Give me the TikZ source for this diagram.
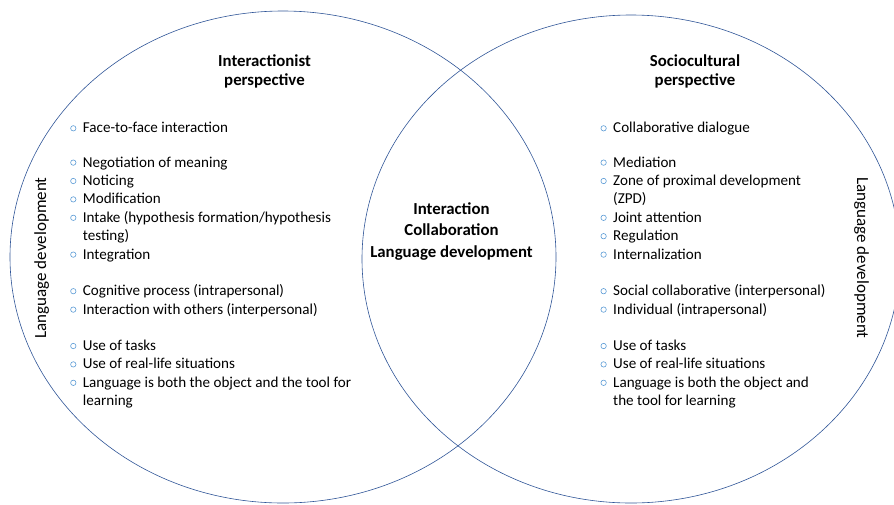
\documentclass[tikz,border=0pt]{standalone}
\usepackage{fontspec}
\setmainfont{Carlito}
\definecolor{ring}{HTML}{2F5597}
\definecolor{dot}{HTML}{5B9BD5}
\newcommand{\ltab}[1]{\begin{tabular}[t]{@{}l@{}}#1\end{tabular}}
\newcommand{\ctab}[1]{\begin{tabular}[t]{@{}c@{}}#1\end{tabular}}

\begin{document}
\begin{tikzpicture}[x=1pt,y=-1pt,
    txt/.style={font=\fontsize{15.1}{18.4}\selectfont, inner sep=0pt, anchor=base west},
    hd/.style={font=\fontsize{16.8}{19.2}\selectfont\bfseries, inner sep=0pt, anchor=base},
    mid/.style={font=\fontsize{16.8}{21.8}\selectfont\bfseries, inner sep=0pt, anchor=base},
    side/.style={font=\fontsize{17}{20}\selectfont, inner sep=0pt, anchor=base}]
    \useasboundingbox (0,0) rectangle (894,504);

    \draw[ring, semithick] (283,257) ellipse [x radius=273pt, y radius=246pt];
    \draw[ring, semithick] (631,259) ellipse [x radius=269pt, y radius=244pt];

    \node[hd] (lhead) at (264.5,66.7) {\ctab{Interactionist\\perspective}};
    \node[hd] (rhead) at (695,66.7) {\ctab{Sociocultural\\perspective}};
    \node[mid] (core) at (451.5,214) {\ctab{Interaction\\Collaboration\\Language development}};

    \node[side, rotate=90] (lside) at (46,258) {Language development};
    \node[side, rotate=-90] (rside) at (857,258) {Language development};

    \foreach \y/\t [count=\i] in {132.7/Face-to-face interaction,
        167/Negotiation of meaning, 185.4/Noticing, 203.8/Modification,
        222.2/{\ltab{Intake (hypothesis formation/hypothesis\\testing)}}, 259/Integration,
        295.6/Cognitive process (intrapersonal), 314/Interaction with others (interpersonal),
        350.4/Use of tasks, 368.8/Use of real-life situations,
        387.2/{\ltab{Language is both the object and the tool for\\learning}}}
    {
      \node[txt] (l\i) at (82.7,\y) {\t};
      \draw[dot, semithick] ([xshift=-9.4pt,yshift=4.4pt]l\i.base west) circle (2.7pt);
    }

    \foreach \y/\t [count=\i] in {132.7/Collaborative dialogue,
        167/Mediation, 185.4/{\ltab{Zone of proximal development\\(ZPD)}},
        222.2/Joint attention, 240.6/Regulation, 259/Internalization,
        295.6/Social collaborative (interpersonal), 314/Individual (intrapersonal),
        350.4/Use of tasks, 368.8/Use of real-life situations,
        387.2/{\ltab{Language is both the object and\\the tool for learning}}}
    {
      \node[txt] (r\i) at (613,\y) {\t};
      \draw[dot, semithick] ([xshift=-9.4pt,yshift=4.4pt]r\i.base west) circle (2.7pt);
    }

\end{tikzpicture}
\end{document}
